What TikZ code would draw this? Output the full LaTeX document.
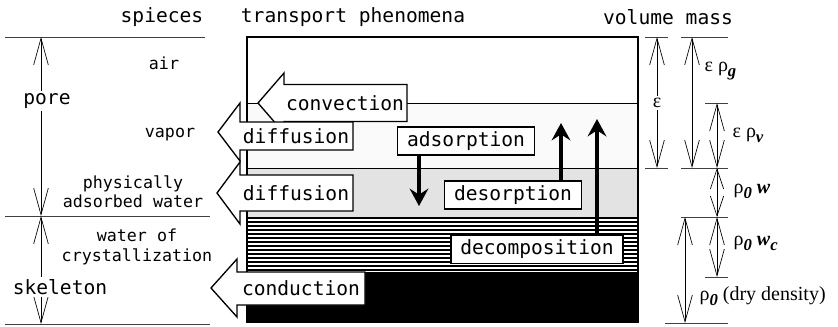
\documentclass[tikz,border=0pt]{standalone}
\usepackage{fontspec}
\setmainfont{Liberation Serif}
\setmonofont{DejaVu Sans Mono}
\usetikzlibrary{arrows.meta}
\newcommand{\lowsub}[1]{\raisebox{-0.55ex}{\fontsize{12.5}{12.5}\selectfont\bfseries\itshape #1}}

\begin{document}
\begin{tikzpicture}[x=0.75pt, y=-0.75pt,
	mono/.style={font=\ttfamily\fontsize{14.7}{17}\selectfont, inner sep=0pt},
	monosm/.style={font=\ttfamily\fontsize{12.5}{14.5}\selectfont, inner sep=0pt, align=center},
	greek/.style={font=\fontsize{15}{17}\selectfont, inner sep=1pt, anchor=west},
	dim/.style={{Straight Barb[length=20pt,width=11pt]}-{Straight Barb[length=20pt,width=11pt]}, line width=0.5pt},
	dimshort/.style={{Straight Barb[length=15pt,width=10pt]}-{Straight Barb[length=15pt,width=10pt]}, line width=0.5pt},
	tick/.style={black!75, line width=0.6pt},
	blockarrow/.style={draw, fill=white, line width=1pt, line join=miter},
	procbox/.style={draw, fill=white, line width=1pt, font=\ttfamily\fontsize{14.7}{17}\selectfont, inner xsep=7pt, inner ysep=0pt, minimum height=21pt},
	flow/.style={-{Stealth[length=13pt,width=14pt,inset=4.5pt]}, line width=2.8pt}]
	\useasboundingbox (0,0) rectangle (838,326);
	% layers of the sample
	\fill[gray!4] (247,103) rectangle (638,168);
	\fill[gray!22] (247,168) rectangle (638,217);
	\foreach \y in {217,221,...,269} \fill (247,\y) rectangle (638,\y+2);
	\fill (247,272) rectangle (638,323);
	\draw[line width=0.8pt] (247,323) -- (247,37) -- (638,37) -- (638,323);
	\draw[line width=0.6pt] (247,103) -- (638,103);
	\draw[line width=0.6pt] (247,168) -- (638,168);
	% headers
	\node[mono] (hdSpec) at (162,17) {spieces};
	\node[mono] (hdTrans) at (353,17) {transport phenomena};
	\node[mono] (hdMass) at (668,17) {volume mass};
	% species
	\draw[tick] (5,37) -- (205,37);
	\draw[tick] (5,216) -- (210,216);
	\draw[tick] (5,324) -- (210,324);
	\coordinate (poreTop) at (41,37);
	\coordinate (poreBot) at (41,216);
	\coordinate (skelBot) at (41,324);
	\draw[dim] (poreTop) -- (poreBot);
	\draw[dim] (poreBot) -- (skelBot);
	\node[mono, fill=white, inner sep=2pt] (pore) at (47,101) {pore};
	\node[mono, fill=white, inner sep=2pt] (skel) at (60,287) {skeleton};
	\node[monosm] (air) at (164,63) {air};
	\node[monosm] (vapor) at (170,135) {vapor};
	\node[monosm] (phys) at (133,192) {physically\\adsorbed water};
	\node[monosm] (cryst) at (137,247) {water of\\crystallization};
	% transport
	\draw[blockarrow] (258,103) -- (284,73) -- (284,84.5) -- (407,84.5) -- (407,121.5) -- (284,121.5) -- (284,133) -- cycle;
	\node[mono] (conv) at (345,103) {convection};
	\draw[blockarrow] (218,132) -- (240,103) -- (240,122) -- (353,122) -- (353,150) -- (240,150) -- (240,161) -- cycle;
	\node[mono] (diffV) at (296,136) {diffusion};
	\draw[blockarrow] (217,193) -- (240,162) -- (240,175) -- (353,175) -- (353,211) -- (240,211) -- (240,224) -- cycle;
	\node[mono] (diffA) at (296,193) {diffusion};
	\draw[blockarrow] (211,288) -- (237,259) -- (237,272) -- (365,272) -- (365,305) -- (237,305) -- (237,317) -- cycle;
	\node[mono] (cond) at (301,288) {conduction};
	% phase changes
	\node[procbox] (ads) at (466,141) {adsorption};
	\node[procbox] (des) at (513,195) {desorption};
	\node[procbox] (dec) at (537,249.5) {decomposition};
	\coordinate (adsEnd) at (419,206);
	\coordinate (desEnd) at (561,123);
	\coordinate (decEnd) at (597,119);
	\draw[flow] (ads.south -| adsEnd) -- (adsEnd);
	\draw[flow] (des.north -| desEnd) -- (desEnd);
	\draw[flow] (dec.north -| decEnd) -- (decEnd);
	% volume and mass
	\draw[tick] (645,37) -- (668,37);
	\draw[tick] (681,37) -- (728,37);
	\draw[tick] (705,103) -- (728,103);
	\draw[tick] (645,168) -- (668,168);
	\draw[tick] (681,168) -- (728,168);
	\draw[tick] (681,217) -- (728,217);
	\draw[tick] (705,277) -- (728,277);
	\draw[tick] (665,323) -- (728,323);
	\coordinate (epsTop) at (657,37);
	\coordinate (epsBot) at (657,168);
	\coordinate (gTop) at (692,37);
	\coordinate (gBot) at (692,168);
	\coordinate (vTop) at (717,103);
	\coordinate (vBot) at (717,168);
	\coordinate (wBot) at (717,217);
	\coordinate (wcBot) at (717,277);
	\coordinate (dryTop) at (685,217);
	\coordinate (dryBot) at (685,323);
	\draw[dim] (epsTop) -- (epsBot);
	\draw[dim] (gTop) -- (gBot);
	\draw[dim] (vTop) -- (vBot);
	\draw[dimshort] (vBot) -- (wBot);
	\draw[dim] (wBot) -- (wcBot);
	\draw[dim] (dryTop) -- (dryBot);
	\node[greek, anchor=center, fill=white, inner sep=2pt] (eps) at (657,103) {ε};
	\node[greek] (epsg) at (703,71) {ε ρ\lowsub{g}};
	\node[greek] (epsv) at (731,135) {ε ρ\lowsub{v}};
	\node[greek] (rw) at (732,191) {ρ\lowsub{0} \textbf{\textit{w}}};
	\node[greek] (rwc) at (732,243) {ρ\lowsub{0} \textbf{\textit{w}}\lowsub{c}};
	\node[greek] (rdry) at (698,296) {ρ\lowsub{0} (dry density)};
\end{tikzpicture}
\end{document}
